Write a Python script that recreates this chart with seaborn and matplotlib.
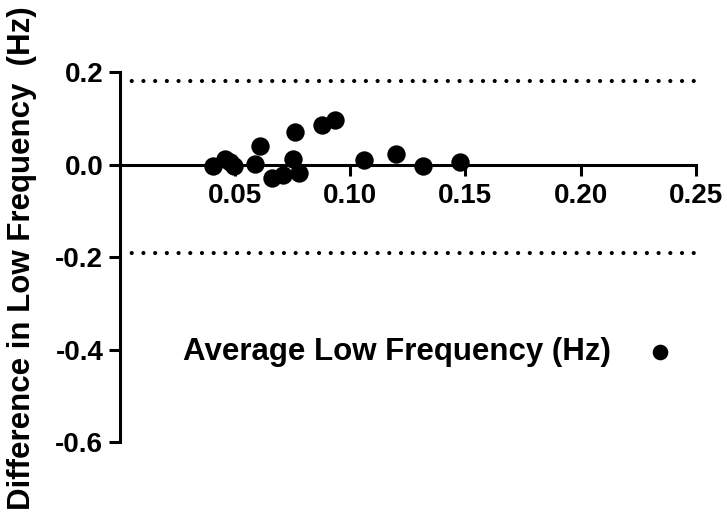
import matplotlib
matplotlib.use("Agg")
import matplotlib.pyplot as plt
import seaborn as sns
import pandas as pd

# Data (Bland-Altman style plot)
average_low_freq = [0.0405, 0.0456, 0.0478, 0.0497, 0.0587, 0.0609, 0.0660, 0.0707,
                    0.0750, 0.0762, 0.0779, 0.0879, 0.0932, 0.1058, 0.1199, 0.1315, 0.1475]
difference_low_freq = [-0.004, 0.011, 0.006, -0.004, 0.0015, 0.040, -0.030, -0.022,
                       0.013, 0.071, -0.018, 0.085, 0.097, 0.009, 0.022, -0.004, 0.006]
upper_loa = 0.180
lower_loa = -0.192
x_ticks = [0.05, 0.10, 0.15, 0.20, 0.25]
y_ticks = [-0.6, -0.4, -0.2, 0.0, 0.2]
series_label = "Average Low Frequency (Hz)"
y_label = "Difference in Low Frequency  (Hz)"

sns.set_style("white")
plt.rcParams['font.family'] = ['Liberation Sans', 'DejaVu Sans']
plt.rcParams['font.weight'] = 'bold'
plt.rcParams['axes.unicode_minus'] = False
plt.rcParams['text.color'] = 'black'

df = pd.DataFrame({"avg": average_low_freq, "diff": difference_low_freq})

fig = plt.figure(figsize=(7.27, 5.20), dpi=100)
ax = fig.add_axes([0.165, 0.15, 0.792, 0.7115])

sns.scatterplot(data=df, x="avg", y="diff", color="black", s=175, edgecolor="black",
                linewidth=0, label=series_label, ax=ax, zorder=3)

for v in (upper_loa, lower_loa):
    ax.axhline(v, color="black", lw=3.0, linestyle=(0, (0.01, 2.8)),
               dash_capstyle="round", zorder=2)

ax.set_xlim(0, 0.25)
ax.set_ylim(-0.6, 0.2)
ax.set_xticks(x_ticks)
ax.set_yticks(y_ticks)
ax.set_xticklabels([f"{t:.2f}" for t in x_ticks])
ax.set_yticklabels([f"{t:.1f}" for t in y_ticks])

for s in ("top", "right"):
    ax.spines[s].set_visible(False)
ax.spines["bottom"].set_position(("data", 0))
ax.spines["bottom"].set_bounds(0, 0.25)
for s in ("left", "bottom"):
    ax.spines[s].set_linewidth(2.2)
    ax.spines[s].set_color("black")

ax.tick_params(axis="both", direction="out", length=8, width=2.2, color="black",
               labelsize=20, labelcolor="black", bottom=True, left=True)
ax.tick_params(axis="x", pad=5)
ax.tick_params(axis="y", pad=4)
for lbl in ax.get_xticklabels() + ax.get_yticklabels():
    lbl.set_fontweight("bold")

ax.set_xlabel("")
ax.set_ylabel("")
fig.text(22 / 727, 1 - 258 / 520, y_label, rotation=90, ha="center", va="center",
         fontsize=22.5, fontweight="bold", color="black")

leg = ax.legend(loc="center", bbox_to_anchor=(0.54, 0.243), frameon=False,
                markerfirst=False, handletextpad=1.0, markerscale=0.85,
                handlelength=1.2, prop={"weight": "bold", "size": 22.5})
for t in leg.get_texts():
    t.set_color("black")

fig.savefig("out.png", dpi=100)
